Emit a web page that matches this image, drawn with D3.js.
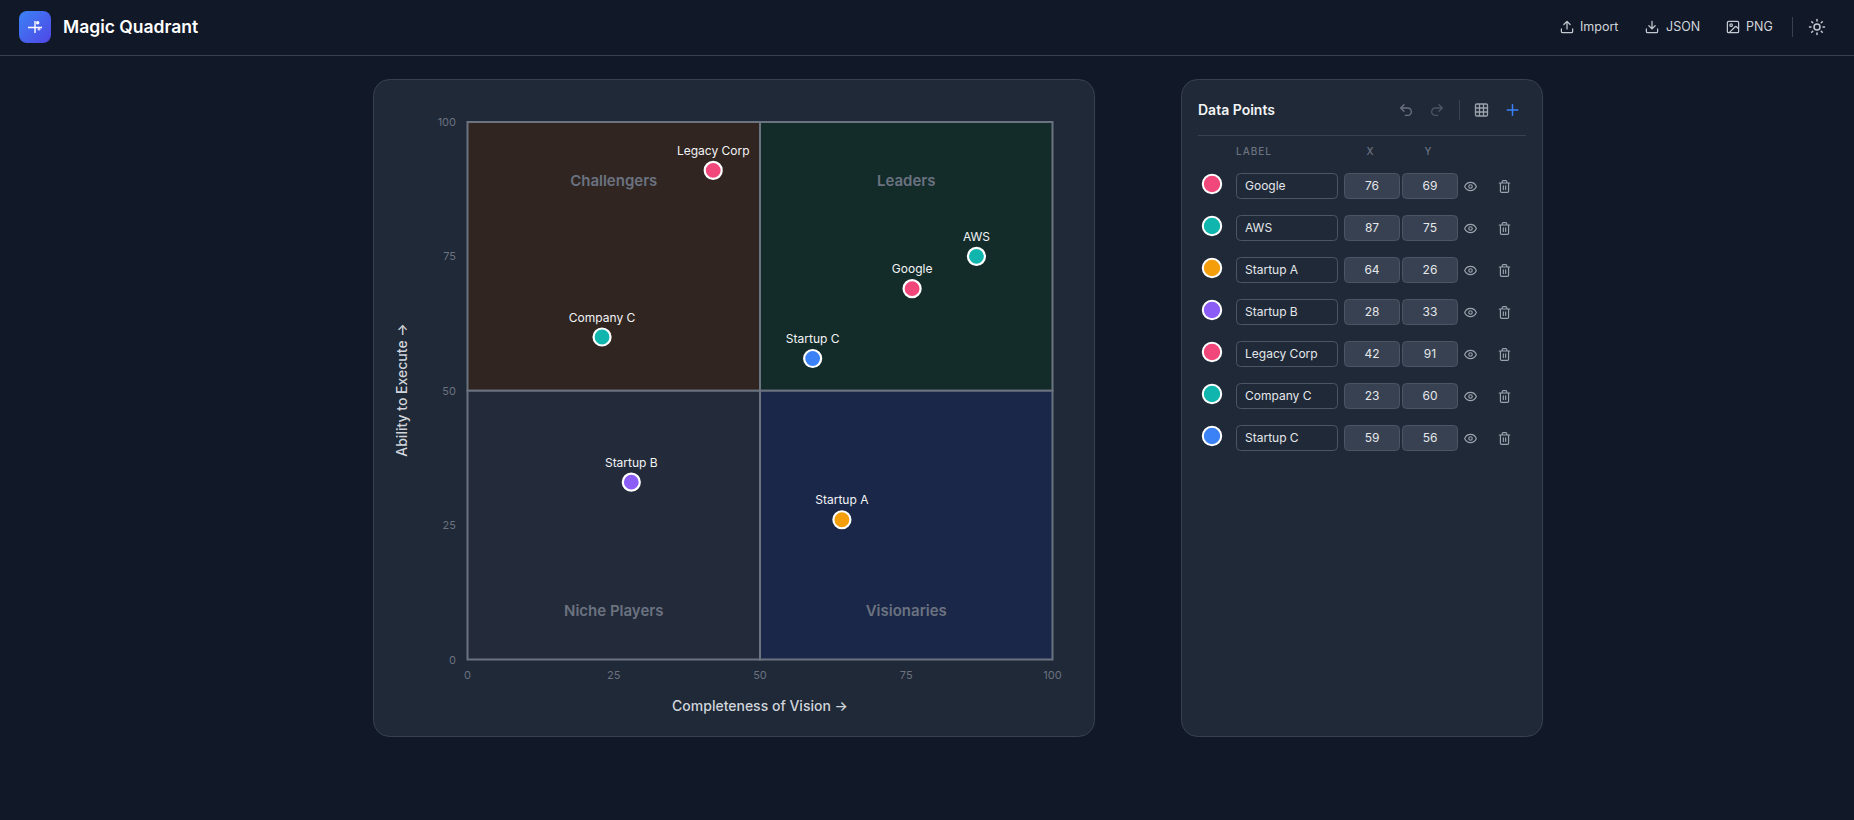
<!DOCTYPE html>
<html>
<head>
<meta charset="utf-8">
<title>Magic Quadrant</title>
<script src="https://cdn.jsdelivr.net/npm/d3@7"></script>
<style>
  html, body { margin: 0; background: #111827; overflow: hidden; }
  svg { display: block; font-family: Inter, sans-serif; }
</style>
</head>
<body>
<svg id="page" width="1854" height="820"></svg>
<script>
const labels = ['Google', 'AWS', 'Startup A', 'Startup B', 'Legacy Corp', 'Company C', 'Startup C'];
const xValues = [76, 87, 64, 28, 42, 23, 59];
const yValues = [69, 75, 26, 33, 91, 60, 56];
const pointColors = ['#f1477a', '#10b5ad', '#f59e0b', '#8b5cf6', '#f1477a', '#10b5ad', '#3b82f6'];
const axisTicks = [0, 25, 50, 75, 100];
const quadrants = ['Challengers', 'Leaders', 'Niche Players', 'Visionaries'];
const quadrantFills = ['#302521', '#132c2a', '#232b3a', '#1a2748'];

const ICONS = {
  upload: 'M21 15v4a2 2 0 0 1-2 2H5a2 2 0 0 1-2-2v-4M17 8l-5-5-5 5M12 3v12',
  download: 'M21 15v4a2 2 0 0 1-2 2H5a2 2 0 0 1-2-2v-4M7 10l5 5 5-5M12 15V3',
  image: 'M5 3h14a2 2 0 0 1 2 2v14a2 2 0 0 1-2 2H5a2 2 0 0 1-2-2V5a2 2 0 0 1 2-2ZM11 9a2 2 0 1 1-4 0a2 2 0 1 1 4 0ZM21 15l-3.086-3.086a2 2 0 0 0-2.828 0L6 21',
  sun: 'M16 12a4 4 0 1 1-8 0a4 4 0 1 1 8 0ZM12 2v2M12 20v2M4.93 4.93l1.41 1.41M17.66 17.66l1.41 1.41M2 12h2M20 12h2M6.34 17.66l-1.41 1.41M19.07 4.93l-1.41 1.41',
  undo: 'M9 14 4 9l5-5M4 9h10.5a5.5 5.5 0 0 1 0 11H11',
  redo: 'M15 14l5-5-5-5M20 9H9.5a5.5 5.5 0 0 0 0 11H13',
  grid: 'M5 3h14a2 2 0 0 1 2 2v14a2 2 0 0 1-2 2H5a2 2 0 0 1-2-2V5a2 2 0 0 1 2-2ZM3 9h18M3 15h18M9 3v18M15 3v18',
  plus: 'M5 12h14M12 5v14',
  eye: 'M2 12s3-7 10-7 10 7 10 7-3 7-10 7-10-7-10-7ZM15 12a3 3 0 1 1-6 0a3 3 0 1 1 6 0Z',
  trash: 'M3 6h18M19 6v14c0 1-1 2-2 2H7c-1 0-2-1-2-2V6M8 6V4c0-1 1-2 2-2h4c1 0 2 1 2 2v2M10 11v6M14 11v6'
};

const svg = d3.select('#page');
const defs = svg.append('defs');
const grad = defs.append('linearGradient').attr('id', 'logoGrad')
  .attr('x1', 0).attr('y1', 0).attr('x2', 1).attr('y2', 1);
grad.append('stop').attr('offset', 0).attr('stop-color', '#3b82f6');
grad.append('stop').attr('offset', 1).attr('stop-color', '#4f46e5');

const icon = (parent, name, cx, cy, size, color) => parent.append('path')
  .attr('d', ICONS[name])
  .attr('transform', `translate(${cx - size / 2},${cy - size / 2}) scale(${size / 24})`)
  .attr('fill', 'none')
  .attr('stroke', color)
  .attr('stroke-width', 2)
  .attr('stroke-linecap', 'round')
  .attr('stroke-linejoin', 'round');

const text = (parent, str, x, y, size, color, weight = 400, anchor = 'start') => parent.append('text')
  .text(str)
  .attr('x', x).attr('y', y)
  .attr('font-size', size)
  .attr('font-weight', weight)
  .attr('fill', color)
  .attr('text-anchor', anchor);

// header
svg.append('line').attr('x1', 0).attr('x2', 1854).attr('y1', 55.5).attr('y2', 55.5).attr('stroke', '#374151');
svg.append('rect').attr('x', 19).attr('y', 11).attr('width', 32).attr('height', 32).attr('rx', 8).attr('fill', 'url(#logoGrad)');
const logo = svg.append('g');
logo.append('path').attr('d', 'M28 27.5h14M35 21v12').attr('stroke', '#fff').attr('stroke-width', 1.4).attr('fill', 'none');
logo.append('circle').attr('cx', 37.7).attr('cy', 22.7).attr('r', 1.7).attr('fill', '#fff');
logo.append('circle').attr('cx', 39).attr('cy', 29.2).attr('r', 1.4).attr('fill', '#ddd6fe');
text(svg, 'Magic Quadrant', 63, 33, 17.5, '#ffffff', 600);

icon(svg, 'upload', 1567, 27, 15, '#c4c9d1');
text(svg, 'Import', 1580, 31, 12.5, '#d1d5db');
icon(svg, 'download', 1652, 27, 15, '#c4c9d1');
text(svg, 'JSON', 1666, 31, 12.5, '#d1d5db');
icon(svg, 'image', 1733, 27, 15, '#c4c9d1');
text(svg, 'PNG', 1746, 31, 12.5, '#d1d5db');
svg.append('line').attr('x1', 1792.5).attr('x2', 1792.5).attr('y1', 17).attr('y2', 37).attr('stroke', '#374151');
icon(svg, 'sun', 1817, 27, 18, '#c4c9d1');

// chart card
svg.append('rect').attr('x', 373.5).attr('y', 79.5).attr('width', 721).attr('height', 657).attr('rx', 16)
  .attr('fill', '#1f2937').attr('stroke', '#374151');

const x = d3.scaleLinear().domain([0, 100]).range([467.5, 1052.5]);
const y = d3.scaleLinear().domain([0, 100]).range([659.5, 122]);
const cells = [[0, 50, 50, 100], [50, 100, 50, 100], [0, 50, 0, 50], [50, 100, 0, 50]];

svg.append('g').selectAll('rect').data(quadrants).join('rect')
  .attr('x', (d, i) => x(cells[i][0]))
  .attr('y', (d, i) => y(cells[i][3]))
  .attr('width', (d, i) => x(cells[i][1]) - x(cells[i][0]))
  .attr('height', (d, i) => y(cells[i][2]) - y(cells[i][3]))
  .attr('fill', (d, i) => quadrantFills[i])
  .attr('stroke', '#6b7280')
  .attr('stroke-width', 2);

svg.append('g').selectAll('text').data(quadrants).join('text')
  .text(d => d)
  .attr('x', (d, i) => (x(cells[i][0]) + x(cells[i][1])) / 2)
  .attr('y', (d, i) => (i < 2 ? 186 : 616))
  .attr('text-anchor', 'middle')
  .attr('font-size', 15)
  .attr('font-weight', 600)
  .attr('fill', '#6b7280');

const xAxis = d3.axisBottom(x).tickValues(axisTicks).tickSize(0).tickPadding(0);
const yAxis = d3.axisLeft(y).tickValues(axisTicks).tickSize(0).tickPadding(0);
const gx = svg.append('g').attr('transform', 'translate(-0.5,671)').call(xAxis);
const gy = svg.append('g').attr('transform', 'translate(456,0)').call(yAxis);
[gx, gy].forEach(g => {
  g.select('.domain').remove();
  g.selectAll('text').attr('fill', '#6b7280').attr('font-size', 11).attr('font-family', 'Inter, sans-serif');
});

text(svg, 'Completeness of Vision →', 760, 711, 14, '#d1d5db', 500, 'middle');
text(svg, 'Ability to Execute →', 0, 0, 14, '#d1d5db', 500, 'middle')
  .attr('transform', 'translate(407,390) rotate(-90)');

const points = svg.append('g').selectAll('g').data(labels).join('g')
  .attr('transform', (d, i) => `translate(${x(xValues[i])},${y(yValues[i])})`);
points.append('circle').attr('r', 8.5)
  .attr('fill', (d, i) => pointColors[i])
  .attr('stroke', '#ffffff').attr('stroke-width', 2.2);
points.append('text').text(d => d)
  .attr('y', -15.5).attr('text-anchor', 'middle')
  .attr('font-size', 12).attr('font-weight', 400).attr('fill', '#f3f4f6');

// side panel
svg.append('rect').attr('x', 1181.5).attr('y', 79.5).attr('width', 361).attr('height', 657).attr('rx', 16)
  .attr('fill', '#1f2937').attr('stroke', '#374151');
text(svg, 'Data Points', 1198, 115, 14, '#f3f4f6', 600);
icon(svg, 'undo', 1406, 110, 16, '#6b7280');
icon(svg, 'redo', 1437, 110, 16, '#4b5563');
svg.append('line').attr('x1', 1459.5).attr('x2', 1459.5).attr('y1', 100).attr('y2', 120).attr('stroke', '#374151');
icon(svg, 'grid', 1481.5, 110, 16, '#9ca3af');
icon(svg, 'plus', 1512.5, 110, 18, '#3b82f6');
svg.append('line').attr('x1', 1198).attr('x2', 1526).attr('y1', 135.5).attr('y2', 135.5).attr('stroke', '#374151');
text(svg, 'LABEL', 1236, 155, 10, '#6b7280', 500).attr('letter-spacing', 1);
text(svg, 'X', 1370.5, 155, 10, '#6b7280', 500, 'middle').attr('letter-spacing', 1);
text(svg, 'Y', 1428.5, 155, 10, '#6b7280', 500, 'middle').attr('letter-spacing', 1);

const rows = svg.append('g').selectAll('g').data(labels).join('g')
  .attr('transform', (d, i) => `translate(0,${173 + i * 42})`);
rows.append('circle').attr('cx', 1212).attr('cy', 11).attr('r', 9.2)
  .attr('fill', (d, i) => pointColors[i]).attr('stroke', '#fff').attr('stroke-width', 2);
const box = (sel, bx, w, fill) => sel.append('rect')
  .attr('x', bx + 0.5).attr('y', 0.5).attr('width', w - 1).attr('height', 25).attr('rx', 4)
  .attr('fill', fill).attr('stroke', '#4b5563');
box(rows, 1236, 102, '#1f2937');
box(rows, 1344, 56, '#374151');
box(rows, 1402, 56, '#374151');
rows.append('text').text(d => d).attr('x', 1245).attr('y', 17).attr('font-size', 12).attr('fill', '#e5e7eb');
rows.append('text').text((d, i) => xValues[i]).attr('x', 1372).attr('y', 17).attr('text-anchor', 'middle').attr('font-size', 12).attr('fill', '#e5e7eb');
rows.append('text').text((d, i) => yValues[i]).attr('x', 1430).attr('y', 17).attr('text-anchor', 'middle').attr('font-size', 12).attr('fill', '#e5e7eb');
rows.each(function () {
  const row = d3.select(this);
  icon(row, 'eye', 1470.5, 13.5, 14, '#9ca3af');
  icon(row, 'trash', 1504.5, 13.5, 14, '#9ca3af');
});
</script>
</body>
</html>
